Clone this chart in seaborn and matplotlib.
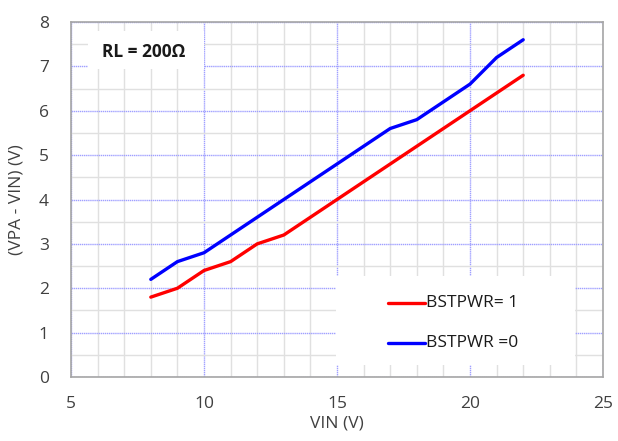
import matplotlib
matplotlib.use("Agg")
import matplotlib.pyplot as plt
import seaborn as sns
import pandas as pd
from matplotlib.ticker import MultipleLocator
from matplotlib.patches import Rectangle

vin = [8, 9, 10, 11, 12, 13, 14, 15, 16, 17, 18, 19, 20, 21, 22]
bstpwr1 = [1.8, 2.0, 2.4, 2.6, 3.0, 3.2, 3.6, 4.0, 4.4, 4.8, 5.2, 5.6, 6.0, 6.4, 6.8]
bstpwr0 = [2.2, 2.6, 2.8, 3.2, 3.6, 4.0, 4.4, 4.8, 5.2, 5.6, 5.8, 6.2, 6.6, 7.2, 7.6]
series_names = ["BSTPWR= 1", "BSTPWR =0"]
colors = ["#ff0000", "#0000ff"]

df = pd.concat([
    pd.DataFrame({"VIN": vin, "V": bstpwr1, "s": series_names[0]}),
    pd.DataFrame({"VIN": vin, "V": bstpwr0, "s": series_names[1]}),
])

sns.set_style("white")
plt.rcParams['font.family'] = ['Open Sans', 'DejaVu Sans']

fig = plt.figure(figsize=(6.18, 4.41), dpi=100)
ax = fig.add_axes([71/618, 1-377/441, (603-71)/618, (377-22)/441])

sns.lineplot(data=df, x="VIN", y="V", hue="s", palette=colors, linewidth=2.4,
             ax=ax, legend=False, zorder=5)

ax.set_xlim(5, 25)
ax.set_ylim(0, 8)
ax.xaxis.set_major_locator(MultipleLocator(5))
ax.xaxis.set_minor_locator(MultipleLocator(1))
ax.yaxis.set_major_locator(MultipleLocator(1))
ax.yaxis.set_minor_locator(MultipleLocator(0.5))
ax.grid(which="minor", color="#e0e0e0", linewidth=1.0, zorder=0)
ax.grid(which="major", color="#a0a0ff", linewidth=1.0, linestyle=(0, (1, 0.5)), zorder=1)
ax.set_axisbelow(True)
ax.tick_params(axis="x", which="both", length=0, labelsize=12.5, colors="#404040", pad=14)
ax.tick_params(axis="y", which="both", length=0, labelsize=12.5, colors="#404040", pad=16)
for sp in ax.spines.values():
    sp.set_color("#a6a6a6")
    sp.set_linewidth(1.2)

ax.set_xlabel("VIN (V)", fontsize=12.5, color="#404040", labelpad=2)
ax.set_ylabel("(VPA - VIN) (V)", fontsize=12.5, color="#404040", labelpad=10)

# white box for annotation
ax.add_patch(Rectangle((5.65, 6.95), 4.35, 0.85, facecolor="white", edgecolor="none", zorder=2))
ax.text(6.15, 7.32, "RL = 200Ω", fontsize=12.5, fontweight="bold", color="#1a1a1a",
        va="center", ha="left", zorder=6)

# legend background box
ax.add_patch(Rectangle((14.95, 0.27), 9.0, 2.0, facecolor="white", edgecolor="none", zorder=2))
for i, (name, c) in enumerate(zip(series_names, colors)):
    yy = 1.67 - i * 0.9
    ax.plot([16.9, 18.3], [yy, yy], color=c, linewidth=2.4, zorder=6)
    ax.text(18.35, yy, name, fontsize=12.5, color="#1a1a1a", va="center", ha="left", zorder=6)

fig.savefig("out.png", dpi=100)
